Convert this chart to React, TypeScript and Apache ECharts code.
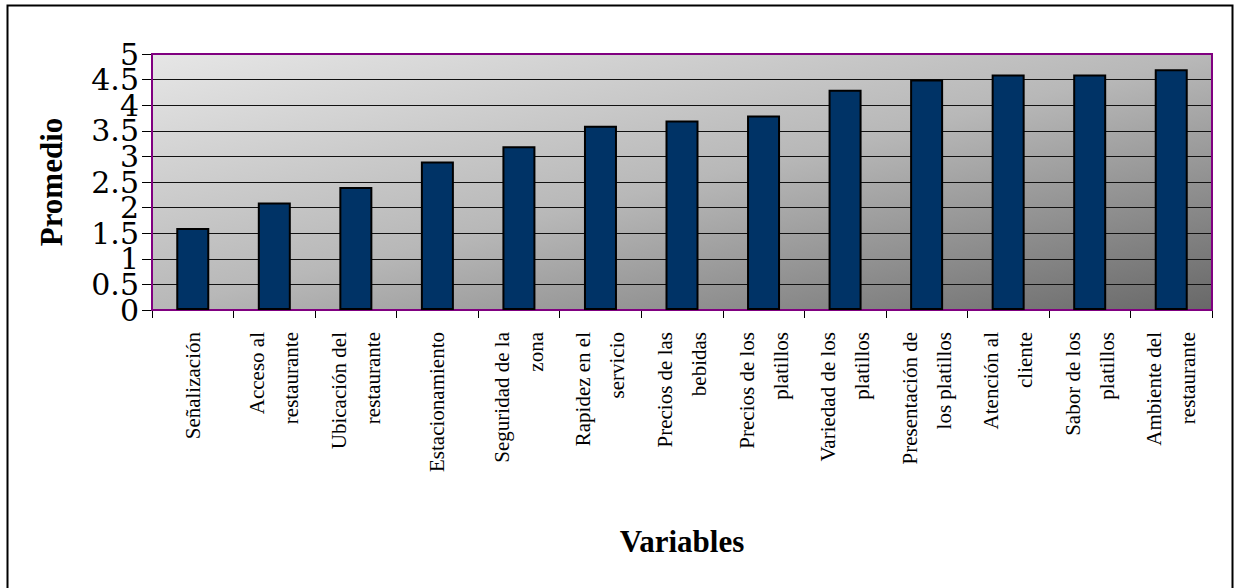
import React, { useEffect, useRef } from "react";
import * as echarts from "echarts";

const categories: string[] = [
  "Señalización",
  "Acceso al\nrestaurante",
  "Ubicación del\nrestaurante",
  "Estacionamiento",
  "Seguridad de la\nzona",
  "Rapidez en el\nservicio",
  "Precios de las\nbebidas",
  "Precios de los\nplatillos",
  "Variedad de los\nplatillos",
  "Presentación de\nlos platillos",
  "Atención al\ncliente",
  "Sabor de los\nplatillos",
  "Ambiente del\nrestaurante",
];

const promedios: number[] = [1.6, 2.1, 2.4, 2.9, 3.2, 3.6, 3.7, 3.8, 4.3, 4.5, 4.6, 4.6, 4.7];

const yTickLabels: string[] = ["0", "0.5", "1", "1.5", "2", "2.5", "3", "3.5", "4", "4.5", "5"];

const yAxisTitle = "Promedio";
const xAxisTitle = "Variables";

const serif = "Liberation Serif";

export default function App() {
  const ref = useRef<HTMLDivElement>(null);
  useEffect(() => {
    document.body.style.margin = "0";
    if (!ref.current) return;
    const chart = echarts.init(ref.current, undefined, { renderer: "svg" });
    chart.setOption({
      animation: false,
      backgroundColor: "#ffffff",
      textStyle: { fontFamily: serif },
      graphic: [
        {
          type: "rect",
          shape: { x: 7.5, y: 5.5, width: 1225, height: 600 },
          style: { fill: "none", stroke: "#000", lineWidth: 2 },
          silent: true,
          z: 100,
        },
        {
          type: "rect",
          shape: { x: 152, y: 54, width: 1060, height: 256 },
          style: { fill: "none", stroke: "#800080", lineWidth: 2 },
          silent: true,
          z: 1,
        },
      ],
      grid: {
        left: 152,
        right: 23,
        top: 54,
        bottom: 278,
        show: true,
        borderWidth: 0,
        backgroundColor: {
          type: "linear",
          x: 0,
          y: 0,
          x2: 1,
          y2: 1,
          colorStops: [
            { offset: 0, color: "#e6e6e6" },
            { offset: 0.5, color: "#b8b8b8" },
            { offset: 1, color: "#686868" },
          ],
        },
      },
      xAxis: {
        type: "category",
        data: categories,
        name: xAxisTitle,
        nameLocation: "middle",
        nameGap: 216,
        nameTextStyle: { fontFamily: serif, fontSize: 31, fontWeight: "bold", color: "#000" },
        axisLine: { show: true, lineStyle: { color: "#000", width: 1 } },
        axisTick: { show: true, length: 8, alignWithLabel: false, lineStyle: { color: "#000" } },
        axisLabel: {
          interval: 0,
          rotate: 90,
          margin: 22,
          fontFamily: serif,
          fontSize: 21,
          lineHeight: 34,
          color: "#000",
        },
      },
      yAxis: [
        {
          type: "value",
          min: 0,
          max: 5,
          interval: 0.5,
          axisLine: { show: false },
          axisTick: { show: false },
          axisLabel: { show: false },
          splitLine: { show: true, lineStyle: { color: "#111", width: 1 } },
        },
        {
          type: "category",
          data: yTickLabels,
          boundaryGap: false,
          position: "left",
          name: yAxisTitle,
          nameLocation: "middle",
          nameGap: 85,
          nameTextStyle: { fontFamily: serif, fontSize: 31, fontWeight: "bold", color: "#000" },
          axisLine: { show: true, lineStyle: { color: "#000", width: 1 } },
          axisTick: { show: true, interval: 0, length: 10, lineStyle: { color: "#000" } },
          splitLine: { show: false },
          axisLabel: {
            interval: 0,
            margin: 13,
            fontFamily: "DejaVu Serif",
            fontSize: 30,
            color: "#000",
          },
        },
      ],
      series: [
        {
          type: "bar",
          yAxisIndex: 0,
          data: promedios,
          barWidth: 33,
          itemStyle: { color: "#003366", borderColor: "#000", borderWidth: 2 },
        },
      ],
    });
    return () => chart.dispose();
  }, []);
  return <div ref={ref} style={{ width: 1235, height: 588 }} />;
}
